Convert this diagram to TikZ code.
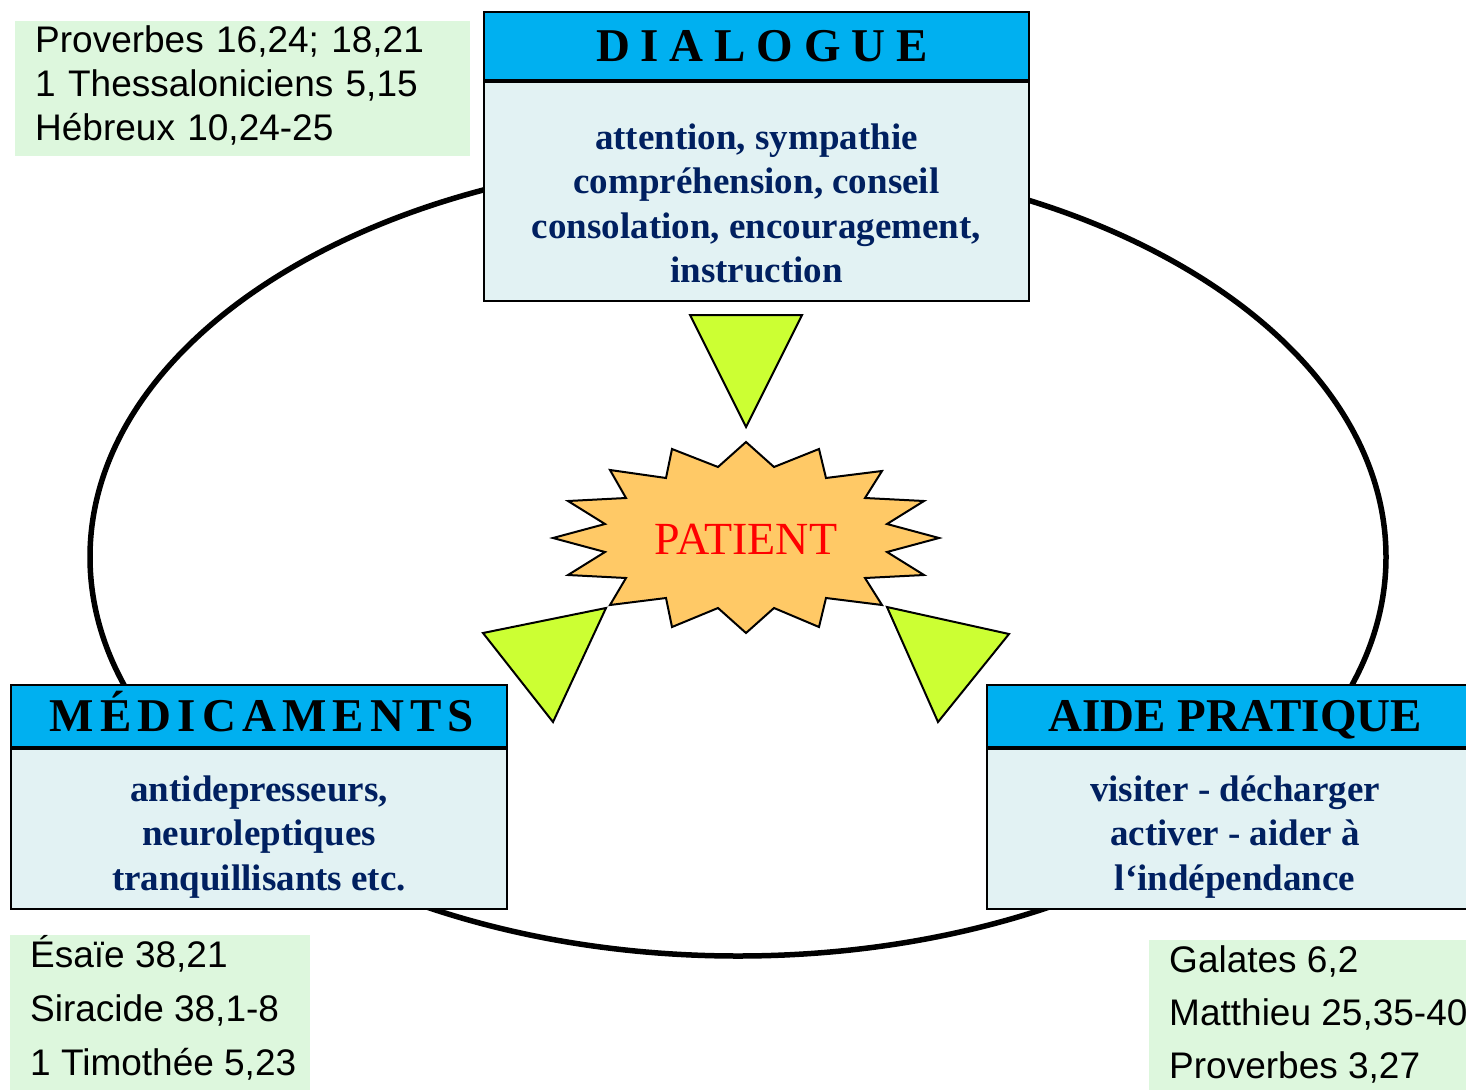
\documentclass[tikz,border=0pt]{standalone}
\usepackage{fontspec}
\setmainfont{Liberation Serif}
\newfontfamily\refsfont{Liberation Sans}
\usepackage{tikz}
\usetikzlibrary{positioning}
\definecolor{headblue}{HTML}{00B0F0}
\definecolor{bodycyan}{HTML}{E2F2F3}
\definecolor{textnavy}{HTML}{002060}
\definecolor{refgreen}{HTML}{DDF7DD}
\definecolor{wedgegreen}{HTML}{CCFF33}
\definecolor{burstorange}{HTML}{FFC966}
\newcommand{\padtop}[1]{\rule{0pt}{#1}}
\newcommand{\padbottom}[1]{\rule[-#1]{0pt}{#1}}

\begin{document}
\begin{tikzpicture}[x=1pt, y=-1pt,
    headbox/.style={draw,
      line width=2pt,
      fill=headblue,
      inner sep=0pt,
      anchor=north west,
      text height=31pt,
      text depth=0pt,
      font=\bfseries\fontsize{47}{50}\selectfont},
    bodybox/.style={draw,
      line width=2pt,
      fill=bodycyan,
      inner sep=0pt,
      align=center,
      text=textnavy,
      font=\bfseries\fontsize{37}{44.5}\selectfont},
    refbox/.style={fill=refgreen,
      inner xsep=20pt,
      inner ysep=0pt,
      align=left,
      anchor=north west},
    wedge/.style={draw,
      line width=2pt,
      fill=wedgegreen}]
  \useasboundingbox (0,0) rectangle (1466,1089);

  % CYCLE

  \draw[line width=5.5pt] (738,557) ellipse [x radius=648pt, y radius=399pt];

  % BOXES

  \node[headbox,
    minimum width=545pt,
    minimum height=68pt] (dialoguetitle) at (483,11) {
    \hspace*{11pt}{\addfontfeatures{LetterSpace=23}DIALOGUE}
  };

  \node[bodybox,
    minimum width=545pt,
    below=0pt of dialoguetitle] (dialogue) {
    \padtop{67pt}attention, sympathie\\
    compréhension, conseil\\
    consolation, encouragement,\\
    instruction\padbottom{18pt}
  };

  \node[headbox,
    minimum width=496pt,
    minimum height=62pt] (medicamentstitle) at (10,684) {
    \hspace*{6pt}{\addfontfeatures{LetterSpace=13}MÉDICAMENTS}
  };

  \node[bodybox,
    minimum width=496pt,
    below=0pt of medicamentstitle] (medicaments) {
    \padtop{52pt}antidepresseurs,\\
    neuroleptiques\\
    tranquillisants etc.\padbottom{19pt}
  };

  \node[headbox,
    minimum width=496pt,
    minimum height=62pt] (aidetitle) at (986,684) {
    AIDE PRATIQUE
  };

  \node[bodybox,
    minimum width=496pt,
    below=0pt of aidetitle] (aide) {
    \padtop{52pt}visiter - décharger\\
    activer - aider à\\
    l‘indépendance\padbottom{19pt}
  };

  % REFERENCES

  \node[refbox,
    text width=415pt,
    font=\refsfont\fontsize{37}{44}\selectfont] (dialoguerefs) at (15,21) {
    \padtop{31pt}Proverbes 16,24; 18,21\\
    1 Thessaloniciens 5,15\\
    Hébreux 10,24-25\padbottom{16pt}
  };

  \node[refbox,
    inner xsep=14pt,
    font=\refsfont\fontsize{37}{54}\selectfont] (medicamentsrefs) at (10,935) {
    \padtop{30pt}\hspace*{6pt}Ésaïe 38,21\\
    \hspace*{6pt}Siracide 38,1-8\\
    \hspace*{6pt}1 Timothée 5,23\padbottom{22pt}
  };

  \node[refbox,
    font=\refsfont\fontsize{37}{53}\selectfont] (aiderefs) at (1149,940) {
    \padtop{32pt}Galates 6,2\\
    Matthieu 25,35-40\\
    Proverbes 3,27\padbottom{20pt}
  };

  % WEDGES

  \draw[wedge] (690,315) -- (802,315) -- (746,427) -- cycle;
  \draw[wedge] (606,608) -- (553,722) -- (483,633) -- cycle;
  \draw[wedge] (887,607) -- (1009,634) -- (938,722) -- cycle;

  % PATIENT

  \draw[line width=2pt, fill=burstorange]
    (746,442) -- (774,467) -- (819,449) -- (826,478) -- (882,471)
    -- (865,498) -- (924,501) -- (887,524) -- (939,538) -- (887,552)
    -- (924,575) -- (865,578) -- (882,605) -- (826,598) -- (819,627)
    -- (774,608) -- (746,633) -- (718,608) -- (672,627) -- (666,598)
    -- (610,605) -- (626,578) -- (568,575) -- (605,552) -- (553,538)
    -- (605,524) -- (568,501) -- (626,498) -- (610,470) -- (666,478)
    -- (672,449) -- (718,467) -- cycle;

  \node[text=red,
    inner sep=0pt,
    text height=31pt,
    text depth=0pt,
    font=\fontsize{46}{50}\selectfont] (patient) at (746,539) {PATIENT};

\end{tikzpicture}
\end{document}
